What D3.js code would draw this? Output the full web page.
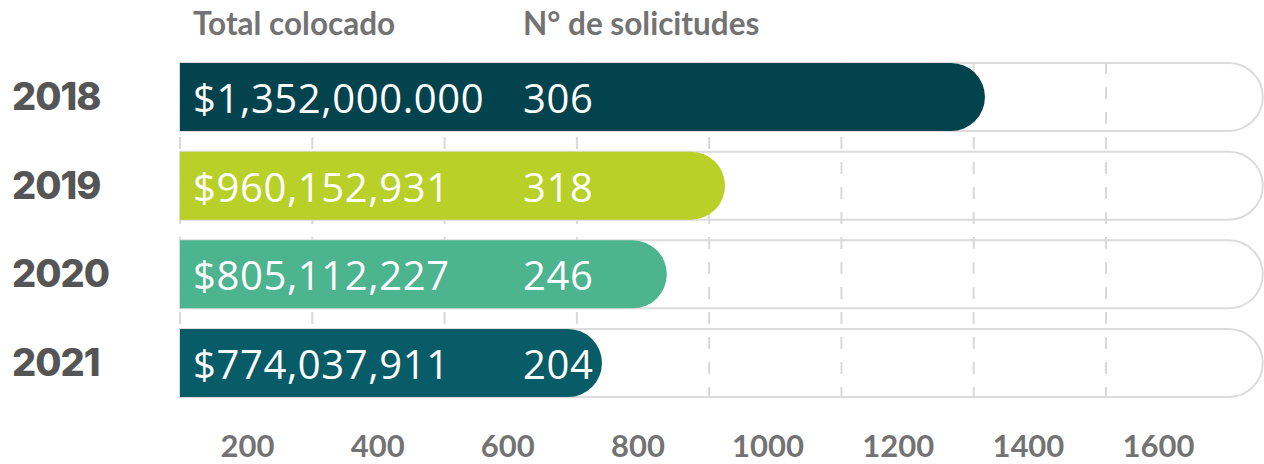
<!DOCTYPE html>
<html>
<head>
<meta charset="utf-8">
<script src="https://cdn.jsdelivr.net/npm/d3@7"></script>
<style>
  html, body { margin: 0; padding: 0; background: #ffffff; }
  svg { display: block; }
</style>
</head>
<body>
<svg id="chart" width="1264" height="464"></svg>
<script>
// ---- data ----
const years = ["2018", "2019", "2020", "2021"];
const totalLabels = ["$1,352,000.000", "$960,152,931", "$805,112,227", "$774,037,911"];
const requests = [306, 318, 246, 204];
// bar lengths (grid units: gridlines every 200)
const barLengths = [1217, 824, 736, 638];
const barColors = ["#03434d", "#b9d028", "#4cb48e", "#075c68"];
const gridValues = [0, 200, 400, 600, 800, 1000, 1200, 1400];
const tickLabels = ["200", "400", "600", "800", "1000", "1200", "1400", "1600"];
const headers = ["Total colocado", "N° de solicitudes"];

// ---- layout ----
const svg = d3.select("#chart");
const x = d3.scaleLinear().domain([0, 1400]).range([180, 1106]);
const trackEnd = 1637; // grid units, past the right edge of the view
const y = d3.scaleBand().domain(years).range([63, 397]).paddingInner(0.233).paddingOuter(0);
const labelX = d3.scalePoint().domain(tickLabels).range([247, 1158]);
const bh = y.bandwidth();
const r = bh / 2;

function pill(x0, x1, y0) {
  const p = d3.path();
  p.moveTo(x0, y0);
  p.lineTo(x1 - r, y0);
  p.arc(x1 - r, y0 + r, r, -Math.PI / 2, Math.PI / 2);
  p.lineTo(x0, y0 + bh);
  p.closePath();
  return p.toString();
}

// tracks
svg.append("g").selectAll("path").data(years).join("path")
  .attr("d", d => pill(x(0), x(trackEnd), y(d)))
  .attr("fill", "#ffffff")
  .attr("stroke", "#dcdcdc")
  .attr("stroke-width", 2);

// gridlines
svg.append("g").selectAll("line").data(gridValues).join("line")
  .attr("x1", d => x(d)).attr("x2", d => x(d))
  .attr("y1", 62).attr("y2", 398)
  .attr("stroke", "#d9d9d9")
  .attr("stroke-width", 2)
  .attr("stroke-dasharray", "12,13");

// bars
svg.append("g").selectAll("path").data(years).join("path")
  .attr("d", (d, i) => pill(x(0), x(barLengths[i]), y(d)))
  .attr("fill", (d, i) => barColors[i]);

// value labels
svg.append("g").selectAll("text").data(years).join("text")
  .attr("x", 193)
  .attr("y", d => y(d) + r + 16)
  .attr("fill", "#ffffff")
  .attr("font-family", "'Open Sans', 'Noto Sans', sans-serif")
  .attr("font-size", 40)
  .attr("letter-spacing", 0.6)
  .text((d, i) => totalLabels[i]);

svg.append("g").selectAll("text").data(years).join("text")
  .attr("x", 523)
  .attr("y", d => y(d) + r + 16)
  .attr("fill", "#ffffff")
  .attr("font-family", "'Open Sans', 'Noto Sans', sans-serif")
  .attr("font-size", 40)
  .attr("letter-spacing", 0.6)
  .text((d, i) => requests[i]);

// year labels
svg.append("g").selectAll("text").data(years).join("text")
  .attr("x", 12)
  .attr("y", d => y(d) + r + 13)
  .attr("fill", "#555555")
  .attr("font-family", "Inter, sans-serif")
  .attr("font-weight", 800)
  .attr("font-size", 38)
  .attr("letter-spacing", -1)
  .text(d => d);

// headers
svg.append("g").selectAll("text").data(headers).join("text")
  .attr("x", (d, i) => i === 0 ? 193 : 523)
  .attr("y", 35)
  .attr("fill", "#737373")
  .attr("font-family", "Lato, sans-serif")
  .attr("font-weight", 700)
  .attr("font-size", 31.5)
  .text(d => d);

// bottom axis labels
const axis = d3.axisBottom(labelX).tickSize(0).tickPadding(0);
const ag = svg.append("g").attr("transform", "translate(0,435)").call(axis);
ag.select(".domain").remove();
ag.selectAll("text")
  .attr("dy", 0).attr("y", 22)
  .attr("fill", "#737373")
  .attr("font-family", "Lato, sans-serif")
  .attr("font-weight", 700)
  .attr("font-size", 31);
</script>
</body>
</html>
